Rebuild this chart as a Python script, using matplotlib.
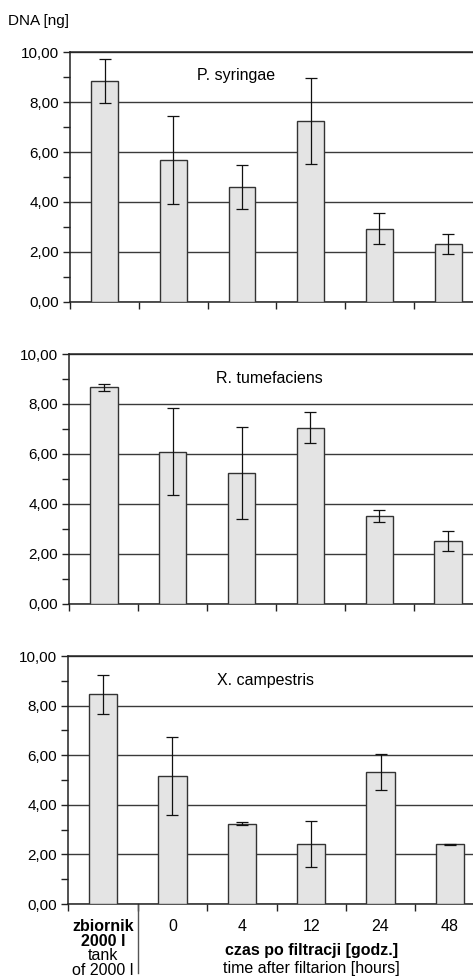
import matplotlib
matplotlib.use("Agg")
import matplotlib.pyplot as plt
from matplotlib.ticker import FixedLocator, FuncFormatter
import matplotlib.transforms as mtransforms

plt.rcParams['font.family'] = ['Liberation Sans', 'DejaVu Sans']

categories = ["zbiornik\n2000 l", "0", "4", "12", "24", "48"]
category_sub = "tank\nof 2000 l"

species = ["P. syringae", "R. tumefaciens", "X. campestris"]

ps_mean = [8.85, 5.67, 4.60, 7.25, 2.93, 2.30]
ps_err = [0.90, 1.77, 0.89, 1.73, 0.62, 0.40]

rt_mean = [8.66, 6.09, 5.23, 7.04, 3.52, 2.52]
rt_err = [0.15, 1.75, 1.83, 0.62, 0.23, 0.39]

xc_mean = [8.45, 5.17, 3.24, 2.42, 5.32, 2.41]
xc_err = [0.77, 1.57, 0.05, 0.93, 0.72, 0.02]

means = [ps_mean, rt_mean, xc_mean]
errs = [ps_err, rt_err, xc_err]

y_label = "DNA [ng]"
x_title_pl = "czas po filtracji [godz.]"
x_title_en = "time after filtarion [hours]"

W, H = 473, 977
fig = plt.figure(figsize=(W / 100, H / 100), dpi=100)

# panel positions in pixels: (left, top, bottom, category spacing)
panels_px = [(70.3, 52.3, 301.7, 68.7), (69.3, 354.0, 603.7, 68.9), (68.3, 656.0, 904.0, 69.4)]
label_pos = [(2.42, 9.05), (2.90, 9.01), (2.84, 9.0)]
bar_w = [0.39, 0.40, 0.41]

fs_tick = 11
fs = 11.5
axes = []
for i, (l, t, b, sp) in enumerate(panels_px):
    ax = fig.add_axes([l / W, 1 - b / H, 6 * sp / W, (b - t) / H])
    axes.append(ax)
    x = [k + 0.5 for k in range(len(categories))]
    ax.bar(x, means[i], width=bar_w[i], color="#e4e4e4", edgecolor="#333333",
           linewidth=1.0, zorder=3)
    ax.errorbar(x, means[i], yerr=errs[i], fmt="none", ecolor="#111111",
                elinewidth=0.9, capsize=4, capthick=0.9, zorder=4)
    ax.set_xlim(0, 6)
    ax.set_ylim(0, 10)
    ax.yaxis.set_major_locator(FixedLocator([0, 2, 4, 6, 8, 10]))
    ax.yaxis.set_minor_locator(FixedLocator([1, 3, 5, 7, 9]))
    ax.yaxis.set_major_formatter(FuncFormatter(lambda v, p: f"{v:.2f}".replace(".", ",")))
    ax.tick_params(axis="y", which="both", length=5, width=1.0, color="#222222",
                   labelsize=fs_tick, pad=3)
    ax.grid(axis="y", which="major", color="#3a3a3a", linewidth=1.0, zorder=1)
    ax.set_axisbelow(True)
    ax.xaxis.set_major_locator(FixedLocator(list(range(7))))
    ax.xaxis.set_major_formatter(FuncFormatter(lambda v, p: ""))
    ax.tick_params(axis="x", which="major", length=5, width=1.0, color="#222222")
    for s in ["left", "bottom", "top", "right"]:
        ax.spines[s].set_color("#222222")
        ax.spines[s].set_linewidth(1.1)
    ax.text(label_pos[i][0], label_pos[i][1], species[i], ha="center", va="center",
            fontsize=fs)

ax = axes[-1]
ax.xaxis.set_minor_locator(FixedLocator([k + 0.5 for k in range(len(categories))]))
ax.xaxis.set_minor_formatter(FuncFormatter(lambda v, p: categories[int(v)]))
ax.tick_params(axis="x", which="minor", length=0, labelsize=fs, pad=11)
labels = ax.xaxis.get_minorticklabels()
for lbl in labels:
    lbl.set_linespacing(0.95)
labels[0].set_fontweight("bold")

trans = mtransforms.blended_transform_factory(ax.transData, ax.transAxes)
ax.text(0.5, -0.238, category_sub, transform=trans, ha="center", va="center",
        fontsize=fs, linespacing=0.95)
# separator
ax.plot([1, 1], [0, -0.278], transform=trans, color="#555555", linewidth=1.0,
        clip_on=False)
ax.text(3.5, -0.2056, x_title_pl, transform=trans, ha="center", va="baseline",
        fontsize=fs, fontweight="bold")
ax.text(3.5, -0.277, x_title_en, transform=trans, ha="center", va="baseline",
        fontsize=fs)

fig.text(8 / W, 1 - 21 / H, y_label, ha="left", va="center", fontsize=11)

fig.savefig("out.png", dpi=100)
